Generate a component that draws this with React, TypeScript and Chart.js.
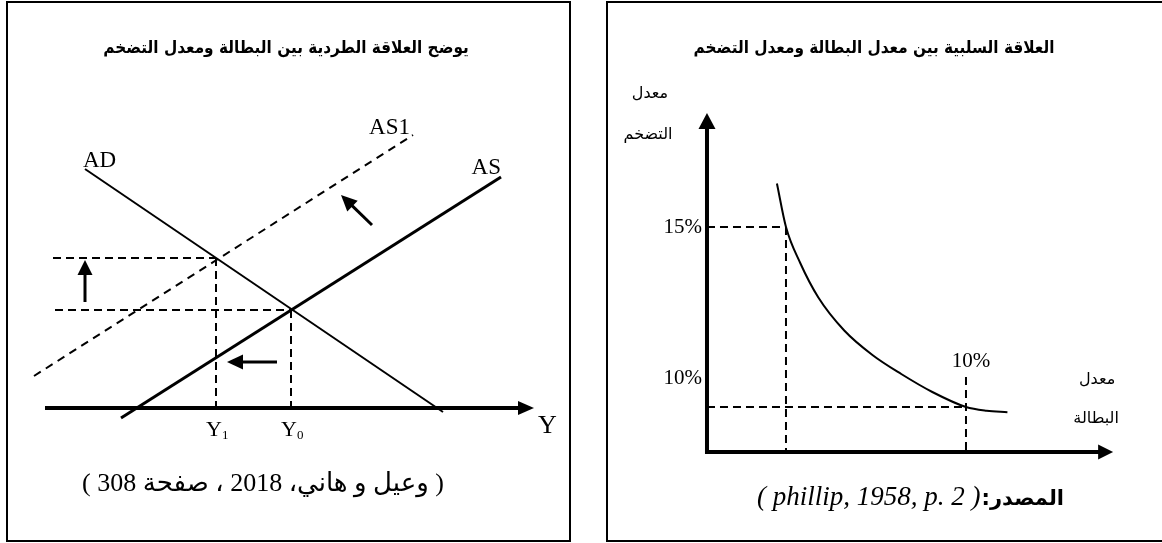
import React, { useEffect, useRef } from "react";
import { Chart, registerables } from "chart.js";
Chart.register(...registerables);

// ---------------- Left panel: AD / AS model (abstract units) ----------------
const adX = [4.0, 39.8];
const adY = [23.9, -0.4];
const asX = [7.6, 45.6];
const asY = [-1.0, 23.1];
const as1X = [-1.1, 36.8];
const as1Y = [3.2, 27.3];
const equilibriumSub = ["1", "0"];
const equilibriumX = [17.1, 24.6];
const equilibriumP = [15.0, 9.8];
const priceGuideStart = [0.8, 1.0];
const outputAxisEnd = 48.9;
const priceArrowX = [4.0, 4.0];
const priceArrowY = [10.6, 14.8];
const outputArrowX = [23.2, 18.2];
const outputArrowY = [4.6, 4.6];
const shiftArrowX = [32.7, 29.6];
const shiftArrowY = [18.3, 21.3];

// ---------------- Right panel: Phillips curve ----------------
const unemployment = [2.7, 3.05, 3.6, 4.3, 5.3, 6.4, 7.5, 8.7, 10.0, 10.8, 11.6];
const inflation = [17.9, 15.0, 12.6, 10.3, 8.1, 6.45, 5.2, 4.0, 3.0, 2.75, 2.65];
const markUnemployment = [3.05, 10.0];
const markInflation = [15.0, 3.0];
const inflationTickValues = [15.0, 4.9];
const inflationTickLabels = ["15%", "10%"];
const unemploymentTickValue = 10.0;
const unemploymentTickLabel = "10%";
const unemploymentMarkTop = 5.0;
const inflationAxisTop = 22.6;
const unemploymentAxisEnd = 15.68;

const leftTitle = "يوضح العلاقة الطردية بين البطالة ومعدل التضخم";
const rightTitle = "العلاقة السلبية بين معدل البطالة ومعدل التضخم";
const leftSource = "( وعيل و هاني، 2018 ، صفحة 308 )";
const rightSourceAr = "المصدر:";
const rightSourceLat = "( phillip, 1958, p. 2 )";
const rateWord = "معدل";
const inflationWord = "التضخم";
const unemploymentWord = "البطالة";

const SERIF = '"Liberation Serif", "DejaVu Sans", serif';
const AR = '"DejaVu Sans", sans-serif';
const ARC = '"DejaVu Sans Condensed", "DejaVu Sans", sans-serif';

function line(xs: number[], ys: number[], width: number, dash: number[] = [], extra: any = {}) {
  return {
    data: xs.map((x, i) => ({ x, y: ys[i] })),
    showLine: true,
    borderColor: "#000",
    backgroundColor: "#000",
    borderWidth: width,
    borderDash: dash,
    pointRadius: 0,
    fill: false,
    tension: 0,
    ...extra,
  };
}

function arrow(ctx: CanvasRenderingContext2D, x0: number, y0: number, x1: number, y1: number, lw: number, hl: number, hw: number) {
  const dx = x1 - x0, dy = y1 - y0;
  const L = Math.hypot(dx, dy);
  const ux = dx / L, uy = dy / L;
  const bx = x1 - ux * hl, by = y1 - uy * hl;
  ctx.beginPath();
  ctx.lineWidth = lw;
  ctx.lineCap = "butt";
  ctx.strokeStyle = "#000";
  ctx.setLineDash([]);
  ctx.moveTo(x0, y0);
  ctx.lineTo(bx + ux, by + uy);
  ctx.stroke();
  ctx.beginPath();
  ctx.fillStyle = "#000";
  ctx.moveTo(x1, y1);
  ctx.lineTo(bx - (uy * hw) / 2, by + (ux * hw) / 2);
  ctx.lineTo(bx + (uy * hw) / 2, by - (ux * hw) / 2);
  ctx.closePath();
  ctx.fill();
}

function text(ctx: CanvasRenderingContext2D, s: string, x: number, y: number, font: string, align: CanvasTextAlign = "center", baseline: CanvasTextBaseline = "alphabetic", rtl = false) {
  ctx.font = font;
  ctx.fillStyle = "#000";
  ctx.textAlign = align;
  ctx.textBaseline = baseline;
  ctx.direction = rtl ? "rtl" : "ltr";
  ctx.fillText(s, x, y);
}

const leftPlugin = {
  id: "leftDecor",
  afterDatasetsDraw(chart: any) {
    const { ctx, scales } = chart;
    const px = (v: number) => scales.x.getPixelForValue(v);
    const py = (v: number) => scales.y.getPixelForValue(v);
    ctx.save();
    arrow(ctx, px(0), py(0), px(outputAxisEnd), py(0), 4, 16, 14);
    arrow(ctx, px(priceArrowX[0]), py(priceArrowY[0]), px(priceArrowX[1]), py(priceArrowY[1]), 3, 15, 15);
    arrow(ctx, px(outputArrowX[0]), py(outputArrowY[0]), px(outputArrowX[1]), py(outputArrowY[1]), 3, 16, 15);
    arrow(ctx, px(shiftArrowX[0]), py(shiftArrowY[0]), px(shiftArrowX[1]), py(shiftArrowY[1]), 3, 16, 15);
    text(ctx, leftTitle, 286, 53, `bold 17px ${ARC}`, "center", "alphabetic", true);
    text(ctx, "AD", px(adX[0]) - 2, py(adY[0]) - 2, `23px ${SERIF}`, "left");
    text(ctx, "AS1", px(as1X[1]) - 3, py(as1Y[1]) - 1, `23px ${SERIF}`, "right");
    text(ctx, "AS", px(asX[1]), py(asY[1]) - 3, `23px ${SERIF}`, "right");
    text(ctx, "Y", px(outputAxisEnd) + 4, py(0) + 25, `26px ${SERIF}`, "left");
    equilibriumX.forEach((ex, i) => {
      ctx.font = `22px ${SERIF}`;
      const w = ctx.measureText("Y").width;
      const x0 = px(ex) - w / 2 - 2;
      text(ctx, "Y", x0, py(0) + 28, `22px ${SERIF}`, "left");
      text(ctx, equilibriumSub[i], x0 + w, py(0) + 31, `13px ${SERIF}`, "left");
    });
    text(ctx, leftSource, 263, 491, `26px ${SERIF}`, "center", "alphabetic", true);
    ctx.restore();
  },
};

const rightPlugin = {
  id: "rightDecor",
  afterDatasetsDraw(chart: any) {
    const { ctx, scales } = chart;
    const px = (v: number) => scales.x.getPixelForValue(v);
    const py = (v: number) => scales.y.getPixelForValue(v);
    ctx.save();
    arrow(ctx, px(0), py(0) + 2, px(0), py(inflationAxisTop), 4, 16, 17);
    arrow(ctx, px(0) - 2, py(0), px(unemploymentAxisEnd), py(0), 4, 15, 15);
    inflationTickValues.forEach((v, i) => {
      text(ctx, inflationTickLabels[i], px(0) - 5, py(v), `21px ${SERIF}`, "right", "middle");
    });
    text(ctx, unemploymentTickLabel, px(unemploymentTickValue) + 5, py(unemploymentMarkTop) - 10, `21px ${SERIF}`, "center");
    text(ctx, rightTitle, 284, 53, `bold 17px ${ARC}`, "center", "alphabetic", true);
    text(ctx, rateWord, px(0) - 57, 98, `16px ${AR}`, "center", "alphabetic", true);
    text(ctx, inflationWord, px(0) - 59, 139, `16px ${AR}`, "center", "alphabetic", true);
    text(ctx, rateWord, px(unemploymentAxisEnd) - 16, py(inflationTickValues[1]) + 6, `16px ${AR}`, "center", "alphabetic", true);
    text(ctx, unemploymentWord, px(unemploymentAxisEnd) - 17, py(inflationTickValues[1]) + 45, `16px ${AR}`, "center", "alphabetic", true);
    ctx.font = `bold 21px ${AR}`;
    const arRight = 474;
    ctx.direction = "rtl";
    const wAr = ctx.measureText(rightSourceAr).width;
    text(ctx, rightSourceAr, arRight, 505, `bold 21px ${AR}`, "right", "alphabetic", true);
    text(ctx, rightSourceLat, arRight - wAr - 1, 505, `italic 27px ${SERIF}`, "right");
    ctx.restore();
  },
};

function makeChart(canvas: HTMLCanvasElement, datasets: any[], xr: number[], yr: number[], plugin: any) {
  return new Chart(canvas, {
    type: "scatter",
    data: { datasets },
    options: {
      animation: false,
      responsive: false,
      events: [],
      layout: { padding: 0 },
      plugins: { legend: { display: false }, tooltip: { enabled: false }, title: { display: false } },
      scales: {
        x: { type: "linear", min: xr[0], max: xr[1], display: false },
        y: { type: "linear", min: yr[0], max: yr[1], display: false },
      },
    } as any,
    plugins: [plugin],
  });
}

export default function App() {
  const leftRef = useRef<HTMLCanvasElement>(null);
  const rightRef = useRef<HTMLCanvasElement>(null);

  useEffect(() => {
    const leftSets: any[] = [
      line(adX, adY, 2),
      line(asX, asY, 3),
      line(as1X, as1Y, 2, [8, 6]),
    ];
    equilibriumX.forEach((ex, i) => {
      leftSets.push(line([priceGuideStart[i], ex], [equilibriumP[i], equilibriumP[i]], 2, [8, 5]));
      leftSets.push(line([ex, ex], [equilibriumP[i], 0], 2, [8, 5]));
    });
    const left = makeChart(leftRef.current!, leftSets, [-4.5, 54.5], [-13.5, 40.8], leftPlugin);

    const rightSets: any[] = [
      line(unemployment, inflation, 2, [], { cubicInterpolationMode: "monotone" }),
      line([0, markUnemployment[0]], [markInflation[0], markInflation[0]], 2, [8, 5]),
      line([markUnemployment[0], markUnemployment[0]], [markInflation[0], 0], 2, [8, 5]),
      line([markUnemployment[1], markUnemployment[1]], [unemploymentMarkTop, 0], 2, [8, 5]),
      line([0, markUnemployment[1]], [markInflation[1], markInflation[1]], 2, [8, 5]),
    ];
    const right = makeChart(rightRef.current!, rightSets, [-4.517, 17.568], [-6.067, 30.133], rightPlugin);
    return () => {
      left.destroy();
      right.destroy();
    };
  }, []);

  return (
    <div style={{ position: "absolute", left: 0, top: 0, width: 1162, height: 543, overflow: "hidden", background: "#fff" }}>
      <div style={{ position: "absolute", left: 6, top: 1, width: 565, height: 541, border: "2px solid #000", boxSizing: "border-box" }} />
      <div style={{ position: "absolute", left: 606, top: 1, width: 600, height: 541, border: "2px solid #000", boxSizing: "border-box" }} />
      <canvas ref={leftRef} width={590} height={543} style={{ position: "absolute", left: 0, top: 0, width: 590, height: 543 }} />
      <canvas ref={rightRef} width={572} height={543} style={{ position: "absolute", left: 590, top: 0, width: 572, height: 543 }} />
    </div>
  );
}
